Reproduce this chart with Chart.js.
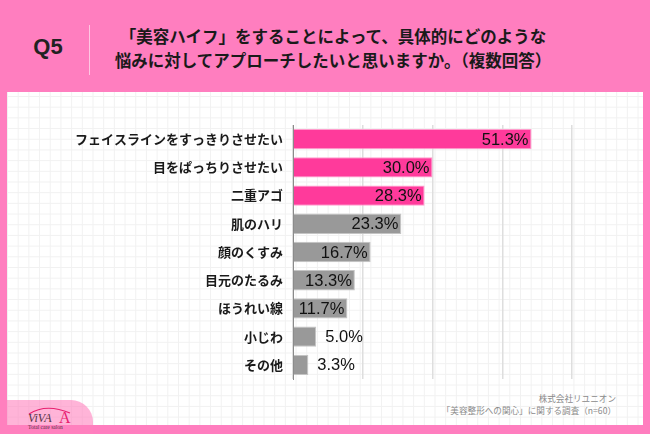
<!DOCTYPE html>
<html><head><meta charset="utf-8">
<script src="https://cdn.jsdelivr.net/npm/chart.js@4.4.0/dist/chart.umd.min.js"></script>
<style>
html,body{margin:0;padding:0;}
body{width:650px;height:434px;background:#FF7EBF;position:relative;overflow:hidden;font-family:"Noto Sans CJK JP",sans-serif;}
#panel{position:absolute;left:7px;top:92px;width:636px;height:333px;background-color:#fff;
 background-image:linear-gradient(to right,#f1f1f1 1px,transparent 1px),linear-gradient(to bottom,#f1f1f1 1px,transparent 1px);
 background-size:10.7px 10.7px;background-position:0 4px;}
#q{position:absolute;left:20px;top:34px;width:56px;text-align:center;font:bold 22px "Liberation Sans",Arial,sans-serif;color:#222;}
#sep{position:absolute;left:89px;top:25px;width:1px;height:50px;background:#ffc6e2;}
#title{position:absolute;left:96px;top:24px;width:474px;text-align:center;font-weight:bold;font-size:16.5px;line-height:24px;color:#1a1a1a;}
#foot{position:absolute;right:34px;top:392px;text-align:right;font-size:8.6px;line-height:12px;color:#8a8a8a;}
#logo{position:absolute;left:0;top:400px;width:93px;height:34px;background:rgba(255,130,190,0.6);border-top-right-radius:22px;}
#logotxt{position:absolute;left:26px;top:405px;width:60px;height:26px;}
canvas#c{position:absolute;left:0;top:0;}
</style></head>
<body>
<div id="panel"></div>
<div id="q">Q5</div>
<div id="sep"></div>
<div id="title">「美容ハイフ」をすることによって、具体的にどのような<br>悩みに対してアプローチしたいと思いますか。（複数回答）</div>
<div id="foot">株式会社リユニオン<br>「美容整形への関心」に関する調査（n=60）</div>
<div id="logo"></div>
<div id="logotxt">
 <svg width="60" height="26" viewBox="0 0 60 26">
  <path d="M3 9 Q20 -2 44 8" stroke="#e8206f" stroke-width="1.2" fill="none"/>
  <text x="2" y="17" font-family="Liberation Serif,serif" font-style="italic" font-size="12" fill="#553344">ViVA</text>
  <text x="33" y="18" font-family="Liberation Serif,serif" font-size="16" fill="#e8206f">A</text>
  <text x="2" y="24" font-family="Liberation Serif,serif" font-size="5.5" fill="#553344">Total care salon</text>
 </svg>
</div>
<canvas id="c" width="650" height="434"></canvas>
<script>
const categories = ["フェイスラインをすっきりさせたい","目をぱっちりさせたい","二重アゴ","肌のハリ","顔のくすみ","目元のたるみ","ほうれい線","小じわ","その他"];
const values = [51.3,30.0,28.3,23.3,16.7,13.3,11.7,5.0,3.3];
const highlightCount = 3;
const xTicks = [0,15,30,45,60];

const colors = values.map((v,i)=> i<highlightCount ? "#FF3A9B" : "#999999");
const borders = values.map((v,i)=> i<highlightCount ? "#FF9ECD" : "#c4c4c4");

const labelPlugin = {
  id:"valueLabels",
  afterDatasetsDraw(chart){
    const ctx = chart.ctx;
    const meta = chart.getDatasetMeta(0);
    ctx.save();
    ctx.font = '16.5px "Liberation Sans", Arial, sans-serif';
    ctx.fillStyle = "#111";
    ctx.textBaseline = "middle";
    meta.data.forEach((bar,i)=>{
      const v = values[i];
      const txt = v.toFixed(1)+"%";
      if (v >= 10){
        ctx.textAlign = "right";
        ctx.fillText(txt, bar.x-3, bar.y+1);
      } else {
        ctx.textAlign = "left";
        ctx.fillText(txt, bar.x+9, bar.y+1);
      }
    });
    ctx.restore();
  }
};

new Chart(document.getElementById("c"),{
  type:"bar",
  data:{labels:categories,datasets:[{data:values,backgroundColor:colors,borderColor:borders,borderWidth:1,borderSkipped:"left",barPercentage:0.72,categoryPercentage:1.0}]},
  options:{
    indexAxis:"y",
    responsive:false,
    animation:false,
    layout:{padding:{top:125,bottom:55,right:78,left:0}},
    plugins:{legend:{display:false},tooltip:{enabled:false}},
    scales:{
      x:{min:0,max:60,
        afterBuildTicks(scale){scale.ticks = xTicks.map(v=>({value:v}));},
        ticks:{display:false},
        grid:{color:"#dedede",lineWidth:1.5,drawTicks:false},
        border:{display:false}
      },
      y:{
        afterFit(scale){scale.width = 293;},
        ticks:{color:"#1a1a1a",padding:10,font:{family:'"Noto Sans CJK JP", sans-serif',size:13,weight:"bold"}},
        grid:{display:false,drawTicks:false},
        border:{display:true,color:"#8a8a8a",width:1}
      }
    }
  },
  plugins:[labelPlugin]
});
</script>
</body></html>
